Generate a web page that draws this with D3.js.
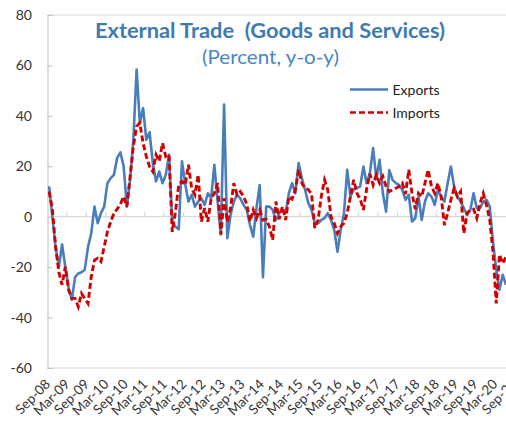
<!DOCTYPE html>
<html><head><meta charset="utf-8">
<script src="https://cdn.jsdelivr.net/npm/d3@7"></script>
<style>html,body{margin:0;padding:0;background:#fff;overflow:hidden}</style>
</head><body>
<svg id="c" width="506" height="422"></svg>
<script>
const tickLabels = ["Sep-08","Mar-09","Sep-09","Mar-10","Sep-10","Mar-11","Sep-11","Mar-12","Sep-12","Mar-13","Sep-13","Mar-14","Sep-14","Mar-15","Sep-15","Mar-16","Sep-16","Mar-17","Sep-17","Mar-18","Sep-18","Mar-19","Sep-19","Mar-20","Sep-20"];
const yTicks = [80,60,40,20,0,-20,-40,-60];
const exportsVals = [12,0,-12,-20,-11,-20,-28,-33,-24,-22.5,-22,-21,-12,-6.6,4,-2.6,1.4,4,13.3,15.3,
16.6,23.3,25.5,20,4,14.6,30.5,58.4,37.2,43.1,30.5,33.5,21.3,14,17.9,13.3,16.6,24.6,-2,-4,
-5,22,13,6,8.7,4,6,7.3,4.7,9.3,7.3,20.6,6,-7,44.5,-8.5,0.7,6,8.7,7.3,
4.7,2.7,-3.3,-7.9,3.4,12.6,-24,4,4,2.7,-1.3,1.4,2.7,1.4,9.3,13.3,9.3,21.3,15.3,10.7,
5.4,2.7,-2.6,-2.6,-1.3,-0.6,1.4,-1.3,-5.2,-13.9,-5.2,1.4,18.6,8,10.7,11.3,12,19.9,13.3,17.3,
27.2,15,22.6,9.3,2,18.5,14.6,13.3,12.6,10.7,6.7,8.7,-1.9,-0.6,8,-1.3,6,9.3,8,4.7,
10.7,8,6,13.3,19.9,12,8,6,3.4,0.7,2.7,9.3,3.4,3.4,6,6.7,4,-10,-21,-29,
-23,-27];
const importsVals = [10,3,-12,-22,-27,-19.8,-29,-32.4,-32.4,-35.7,-30.4,-32.4,-34.4,-23.8,-17.2,-16.5,-17.8,-11.9,-6,-2,
1.4,3,5,8,4,16,27.9,35.8,37.2,29.2,23.9,19.9,17.9,24.6,22,29.2,23.9,24.6,-6,2,
12.6,14,12.6,20.6,11.3,8.7,16.6,-2,3.4,-2,7.3,9.3,13.3,-7,7.3,-2,3.4,13.3,8.7,10,
8,5,-1.9,2.7,-0.6,2.7,-1.3,-1,-4,-9.2,6,-1,4,-1.3,8,7,10.7,18.6,13.3,11.3,
10.7,9,-4.5,-1.3,8,14.6,10.7,0,-2.6,-6.6,-3.9,-2.6,1.4,8,14.6,9.3,7,2.7,11,17,
12.6,16.6,13.3,16,12,10,10.7,11.3,12,13.3,9,18.6,9.3,3,9.3,8,13.3,18.6,12,9.3,
13.3,8,-3.3,1.4,6.7,11.3,8,10,-6.6,1.4,2.7,3,-0.6,5.4,9.3,4.5,-1.3,-14,-34.4,-15,
-18.5,-16];

const months = d3.timeMonth.range(new Date(2008,8,1), new Date(2020,9,1)).map(d3.timeFormat("%b-%y"));

const svg = d3.select("#c");
const x = d3.scaleBand().domain(months).range([47.5, 47.5 + months.length*3.24]).padding(0);
const cx = m => x(m) + x.bandwidth()/2;
const y = d3.scaleLinear().domain([-60,80]).range([368,15]);
const font = "Lato, 'Open Sans', sans-serif";

// plot border
svg.append("line").attr("x1",47.5).attr("x2",506).attr("y1",y(80)).attr("y2",y(80)).attr("stroke","#d9d9d9").attr("stroke-width",1);
svg.append("line").attr("x1",47.5).attr("x2",506).attr("y1",y(-60)).attr("y2",y(-60)).attr("stroke","#d9d9d9").attr("stroke-width",1);

// y axis
const yAxis = d3.axisLeft(y).tickValues(yTicks).tickSize(-5).tickPadding(15).tickFormat(d3.format("d"));
const yg = svg.append("g").attr("transform","translate(47.5,0)").call(yAxis);
yg.select(".domain").attr("stroke","#bfbfbf");
yg.selectAll(".tick line").attr("stroke","#bfbfbf");
yg.selectAll("text").attr("font-family",font).attr("font-size",14).attr("fill","#333").attr("x",-15.5).text(d=> d<0 ? "-"+Math.abs(d) : d);

// x axis at zero
svg.append("line").attr("x1",47.5).attr("x2",506).attr("y1",y(0)).attr("y2",y(0)).attr("stroke","#d9d9d9").attr("stroke-width",1.2);
svg.append("g").selectAll("line").data(d3.range(1,25)).join("line")
  .attr("x1",k=>x(months[k*6])).attr("x2",k=>x(months[k*6]))
  .attr("y1",y(0)).attr("y2",y(0)-5).attr("stroke","#d9d9d9").attr("stroke-width",1.2);
svg.append("g").selectAll("text").data(tickLabels).join("text")
  .attr("transform",(t,k)=>`translate(${cx(months[k*6])+2},${385}) rotate(-45)`)
  .attr("text-anchor","end").attr("font-family",font).attr("font-size",13.5).attr("fill","#333")
  .text(t=>t);

// lines
const lineE = d3.line().x((d,i)=>cx(months[i])).y(d=>y(d));
svg.append("path").datum(exportsVals).attr("d",lineE).attr("fill","none").attr("stroke","#4A7EBB").attr("stroke-width",2.6).attr("stroke-linejoin","round");
svg.append("path").datum(importsVals).attr("d",lineE).attr("fill","none").attr("stroke","#D00000").attr("stroke-width",2.9).attr("stroke-dasharray","6,3");

// title
svg.append("text").attr("x",270).attr("y",38).attr("text-anchor","middle").attr("font-family",font).attr("font-weight","bold")
  .attr("font-size",20.5).attr("fill","#3F7AB0").attr("textLength",350).attr("lengthAdjust","spacingAndGlyphs").attr("xml:space","preserve")
  .text("External Trade  (Goods and Services)");
svg.append("text").attr("x",270.5).attr("y",64).attr("text-anchor","middle").attr("font-family",font)
  .attr("font-size",18.5).attr("fill","#4A86C0").attr("textLength",137).attr("lengthAdjust","spacingAndGlyphs")
  .text("(Percent, y-o-y)");

// legend
const leg = [{n:"Exports",c:"#4A7EBB",d:null,y:89.5},{n:"Imports",c:"#D00000",d:"6,3",y:112.5}];
leg.forEach(l=>{
  svg.append("line").attr("x1",350).attr("x2",388).attr("y1",l.y).attr("y2",l.y).attr("stroke",l.c).attr("stroke-width",2.6).attr("stroke-dasharray",l.d);
  svg.append("text").attr("x",392.5).attr("y",l.y+5).attr("font-family",font).attr("font-size",14).attr("fill","#222").text(l.n);
});
</script>
</body></html>
